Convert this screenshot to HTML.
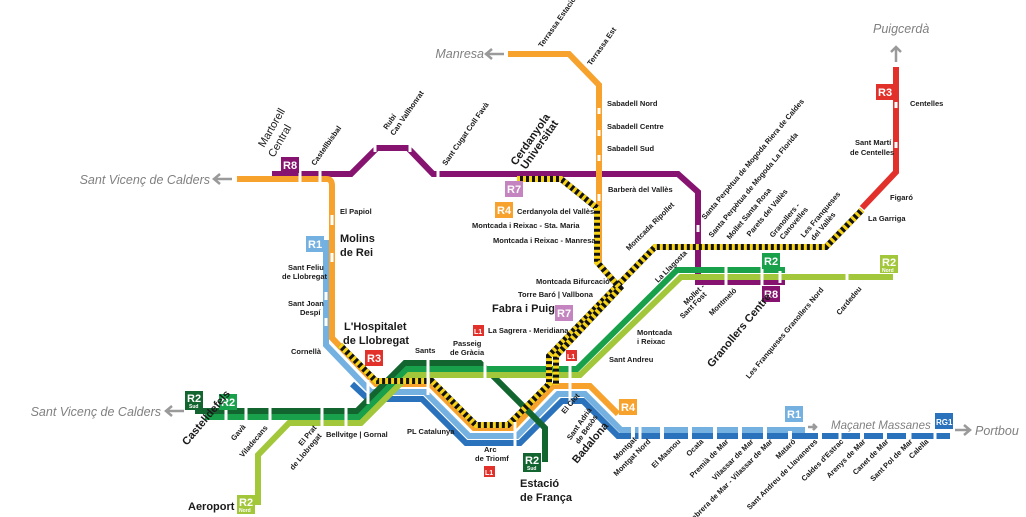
<!DOCTYPE html>
<html><head><meta charset="utf-8"><style>
html,body{margin:0;padding:0;background:#fff;}
svg{display:block;}
text{font-family:"Liberation Sans",sans-serif;}
.s{font-size:7.5px;fill:#1a1a1a;font-weight:bold;}
.b{font-size:11px;fill:#1a1a1a;font-weight:bold;}
.d{font-size:12.5px;fill:#808080;font-style:italic;}
.bd{font-size:11px;font-weight:bold;fill:#fff;}
.e{text-anchor:end;}
</style></head><body>
<svg width="1026" height="517" viewBox="0 0 1026 517" xmlns="http://www.w3.org/2000/svg">
<g fill="none" stroke-linejoin="miter">
<path d="M272 174 H351 L377 148 H408 L433 174 H678 L698 192 V282 H785" stroke="#86136f" stroke-width="6"/>
<path d="M237 179 H327 Q332 179 332 186 V338 L376 384 H430 L474 428 H513 L553 386 H590 L618 414" stroke="#f6a22d" stroke-width="6"/>
<path d="M508 54 H569 L599 85 V262" stroke="#f6a22d" stroke-width="6"/>
<path d="M326 240 V345 L371 392 H425 L469 436 H517 L558 394 H585 L613 422 L621 430 H805" stroke="#74b1e1" stroke-width="6"/>
<path d="M352 384 L368 399 H422 L466 443 H520 L562 401 H583 L618 436 H950" stroke="#2a72bb" stroke-width="6"/>
<path d="M195 411 H357 L405 363 H480 L545 428 V462" stroke="#13652f" stroke-width="6"/>
<path d="M205 417 H359 L407 369 H577 L677 270 H785" stroke="#18a04a" stroke-width="6"/>
<path d="M258 505 V455 L289 423 H361 L409 375 H580 L681 277 H893" stroke="#a2c73b" stroke-width="6"/>
<path d="M896 67 V172 L862 208" stroke="#e2302b" stroke-width="6"/>
<path d="M340 345 L376 381 H432 L476 425 H508 L549 384 V356 L655 247 H826 L862 210" stroke="#111" stroke-width="6"/>
<path d="M340 345 L376 381 H432 L476 425 H508 L549 384 V356 L655 247 H826 L862 210" stroke="#f7d417" stroke-width="6" stroke-dasharray="3 3"/>
<path d="M517 179 H561 L597 208 V262 L620 288 L556 356 V385" stroke="#111" stroke-width="6"/>
<path d="M517 179 H561 L597 208 V262 L620 288 L556 356 V385" stroke="#f7d417" stroke-width="6" stroke-dasharray="3 3"/>
<g stroke="#fff" stroke-width="3">
<path d="M339 328 V338 M326 292 V300 M326 318 V326 M332 253 V262 M332 215 V225 M300 170 V184 M320 170 V184 M368 380 V404 M428 360 V395 M485 360 V380 M570 356 V440 M375 144 V152 M410 144 V152 M438 168 V180 M599 108 V114 M599 130 V136 M599 155 V161 M599 194 V201 M698 225 V232 M896 102 V108 M896 142 V148 M515 422 V448 M226 405 V424 M246 405 V424 M270 405 V424 M322 405 V429 M346 405 V429"/>
<path d="M640 440 V425 M840 426 V440 M910 426 V440 M935 426 V440 M762 262 V288 M847 271 V283 M780 271 V283 M726 264 V290"/>
</g>
<g stroke="#fff" stroke-width="4">
<path d="M633 424 V440 M662 424 V440 M690 424 V440 M715 424 V440 M740 424 V440 M765 424 V440 M790 431 V440 M820 431 V440 M862 431 V440 M885 431 V440 M908 431 V440"/>
</g>
<g stroke="#9a9a9a" stroke-width="2.5">
<path d="M232 179 H214 M220 174 L214 179 L220 184"/>
<path d="M504 54 H486 M492 49 L486 54 L492 59"/>
<path d="M896 62 V47 M891 52 L896 47 L901 52"/>
<path d="M184 411 H166 M172 406 L166 411 L172 416"/>
<path d="M955 430 H970 M964 425 L970 430 L964 435"/>
<path d="M808 427 H816 M813 424 L816 427 L813 430"/>
</g>
</g>
<g>
<rect x="281" y="157" width="18" height="16" fill="#86136f"/><text x="283" y="169" class="bd">R8</text>
<rect x="306" y="236" width="18" height="16" fill="#74b1e1"/><text x="308" y="248" class="bd">R1</text>
<rect x="365" y="350" width="18" height="16" fill="#e2302b"/><text x="367" y="362" class="bd">R3</text>
<rect x="505" y="181" width="18" height="16" fill="#c384bf"/><text x="507" y="193" class="bd">R7</text>
<rect x="495" y="202" width="18" height="16" fill="#f6a22d"/><text x="497" y="214" class="bd">R4</text>
<rect x="555" y="305" width="18" height="16" fill="#c384bf"/><text x="557" y="317" class="bd">R7</text>
<rect x="619" y="399" width="18" height="16" fill="#f6a22d"/><text x="621" y="411" class="bd">R4</text>
<rect x="785" y="406" width="18" height="16" fill="#74b1e1"/><text x="787" y="418" class="bd">R1</text>
<rect x="935" y="413" width="18" height="16" fill="#2a72bb"/><text x="936" y="425" class="bd" style="font-size:8px">RG1</text>
<rect x="876" y="84" width="18" height="16" fill="#e2302b"/><text x="878" y="96" class="bd">R3</text>
<rect x="762" y="253" width="18" height="16" fill="#18a04a"/><text x="764" y="265" class="bd">R2</text>
<rect x="762" y="286" width="18" height="16" fill="#86136f"/><text x="764" y="298" class="bd">R8</text>
<rect x="880" y="255" width="18" height="18" fill="#a2c73b"/><text x="882" y="266" class="bd">R2</text><text x="882" y="272" style="font-size:5px;font-weight:bold;fill:#fff">Nord</text>
<rect x="185" y="391" width="18" height="19" fill="#13652f"/><text x="187" y="402" class="bd">R2</text><text x="189" y="408" style="font-size:5px;font-weight:bold;fill:#fff">Sud</text>
<rect x="219" y="394" width="18" height="16" fill="#18a04a"/><text x="221" y="406" class="bd">R2</text>
<rect x="237" y="495" width="18" height="19" fill="#a2c73b"/><text x="239" y="506" class="bd">R2</text><text x="239" y="512" style="font-size:5px;font-weight:bold;fill:#fff">Nord</text>
<rect x="523" y="453" width="18" height="19" fill="#13652f"/><text x="525" y="464" class="bd">R2</text><text x="527" y="470" style="font-size:5px;font-weight:bold;fill:#fff">Sud</text>
<rect x="473" y="325" width="11" height="11" fill="#e2302b"/><text x="474" y="334" style="font-size:7px;font-weight:bold;fill:#fff">L1</text>
<rect x="566" y="350" width="11" height="11" fill="#e2302b"/><text x="567" y="359" style="font-size:7px;font-weight:bold;fill:#fff">L1</text>
<rect x="484" y="466" width="11" height="11" fill="#e2302b"/><text x="485" y="475" style="font-size:7px;font-weight:bold;fill:#fff">L1</text>
</g>
<text x="210" y="184" class="d e">Sant Vicenç de Calders</text>
<text x="161" y="416" class="d e">Sant Vicenç de Calders</text>
<text x="484" y="58" class="d e">Manresa</text>
<text x="873" y="33" class="d">Puigcerdà</text>
<text x="975" y="435" class="d">Portbou</text>
<text x="831" y="429" class="d" style="font-size:11.5px">Maçanet Massanes</text>
<text x="340" y="242" class="b">Molins</text><text x="340" y="256" class="b">de Rei</text>
<text x="344" y="330" class="b">L'Hospitalet</text><text x="343" y="344" class="b">de Llobregat</text>
<text x="492" y="312" class="b">Fabra i Puig</text>
<text x="520" y="487" class="b">Estació</text><text x="520" y="501" class="b">de França</text>
<text x="188" y="510" class="b">Aeroport</text>
<g class="b">
<text transform="translate(516,166) rotate(-55)">Cerdanyola</text>
<text transform="translate(526,170) rotate(-55)">Universitat</text>
<text transform="translate(187,446) rotate(-50)">Castelldefels</text>
<text transform="translate(577,464) rotate(-50)">Badalona</text>
<text transform="translate(712,368) rotate(-50)">Granollers Centre</text>
</g>
<text transform="translate(264,148) rotate(-60)" style="font-size:11px;fill:#222">Martorell</text>
<text transform="translate(274,158) rotate(-60)" style="font-size:11px;fill:#222">Central</text>
<g class="s">
<text x="340" y="214">El Papiol</text>
<text x="288" y="270">Sant Feliu</text><text x="282" y="279">de Llobregat</text>
<text x="288" y="306">Sant Joan</text><text x="300" y="315">Despí</text>
<text x="291" y="354">Cornellà</text>
<text x="415" y="353">Sants</text>
<text x="453" y="346">Passeig</text><text x="450" y="355">de Gràcia</text>
<text x="407" y="434">PL Catalunya</text>
<text x="484" y="452">Arc</text><text x="475" y="461">de Triomf</text>
<text x="326" y="437">Bellvitge | Gornal</text>
<text x="488" y="333">La Sagrera - Meridiana</text>
<text x="536" y="284">Montcada Bifurcació</text>
<text x="518" y="297">Torre Baró | Vallbona</text>
<text x="517" y="214">Cerdanyola del Vallès</text>
<text x="472" y="228">Montcada i Reixac - Sta. Maria</text>
<text x="493" y="243">Montcada i Reixac - Manresa</text>
<text x="607" y="106">Sabadell Nord</text>
<text x="607" y="129">Sabadell Centre</text>
<text x="607" y="151">Sabadell Sud</text>
<text x="608" y="192">Barberà del Vallès</text>
<text x="910" y="106">Centelles</text>
<text x="855" y="145">Sant Martí</text><text x="850" y="155">de Centelles</text>
<text x="890" y="200">Figaró</text>
<text x="868" y="221">La Garriga</text>
<text x="637" y="335">Montcada</text><text x="637" y="344">i Reixac</text>
<text x="609" y="362">Sant Andreu</text>
<text transform="translate(315,166) rotate(-55)">Castellbisbal</text>
<text transform="translate(387,130) rotate(-55)">Rubí</text>
<text transform="translate(394,136) rotate(-55)">Can Vallhonrat</text>
<text transform="translate(446,166) rotate(-55)">Sant Cugat Coll Favà</text>
<text transform="translate(542,48) rotate(-55)">Terrassa Estació del Nord</text>
<text transform="translate(591,66) rotate(-55)">Terrassa Est</text>
<text transform="translate(629,251) rotate(-45)">Montcada Ripollet</text>
<text transform="translate(658,283) rotate(-45)">La Llagosta</text>
<text class="e" transform="translate(705,287) rotate(-45)">Mollet -</text>
<text class="e" transform="translate(707,295) rotate(-45)">Sant Fost</text>
<text class="e" transform="translate(737,291) rotate(-45)">Montmeló</text>
<text class="e" transform="translate(824,290) rotate(-50)">Les Franqueses Granollers Nord</text>
<text class="e" transform="translate(862,289) rotate(-50)">Cardedeu</text>
<text transform="translate(705,220) rotate(-50)">Santa Perpètua de Mogoda Riera de Caldes</text>
<text transform="translate(712,238) rotate(-50)">Santa Perpètua de Mogoda La Florida</text>
<text transform="translate(730,240) rotate(-50)">Mollet Santa Rosa</text>
<text transform="translate(750,237) rotate(-50)">Parets del Vallès</text>
<text transform="translate(773,238) rotate(-50)">Granollers -</text>
<text transform="translate(783,240) rotate(-50)">Canovelles</text>
<text transform="translate(804,238) rotate(-50)">Les Franqueses</text>
<text transform="translate(814,241) rotate(-50)">del Vallès</text>
<text class="e" transform="translate(246,427) rotate(-50)">Gavà</text>
<text class="e" transform="translate(268,428) rotate(-50)">Viladecans</text>
<text class="e" transform="translate(317,428) rotate(-50)">El Prat</text>
<text class="e" transform="translate(322,436) rotate(-50)">de Llobregat</text>
<text class="e" transform="translate(580,396) rotate(-50)">El Clot</text>
<text class="e" transform="translate(592,410) rotate(-55)">Sant Adrià</text>
<text class="e" transform="translate(598,417) rotate(-55)">de Besòs</text>
<text class="e" transform="translate(637,440) rotate(-45)">Montgat</text>
<text class="e" transform="translate(651,442) rotate(-45)">Montgat Nord</text>
<text class="e" transform="translate(681,442) rotate(-45)">El Masnou</text>
<text class="e" transform="translate(704,442) rotate(-45)">Ocata</text>
<text class="e" transform="translate(729,442) rotate(-45)">Premià de Mar</text>
<text class="e" transform="translate(754,442) rotate(-45)">Vilassar de Mar</text>
<text class="e" transform="translate(773,442) rotate(-45)">Cabrera de Mar - Vilassar de Mar</text>
<text class="e" transform="translate(796,442) rotate(-45)">Mataró</text>
<text class="e" transform="translate(818,442) rotate(-45)">Sant Andreu de Llavaneres</text>
<text class="e" transform="translate(844,442) rotate(-45)">Caldes d'Estrac</text>
<text class="e" transform="translate(866,442) rotate(-45)">Arenys de Mar</text>
<text class="e" transform="translate(889,442) rotate(-45)">Canet de Mar</text>
<text class="e" transform="translate(913,442) rotate(-45)">Sant Pol de Mar</text>
<text class="e" transform="translate(929,442) rotate(-45)">Calella</text>
</g>
</svg>
</body></html>
